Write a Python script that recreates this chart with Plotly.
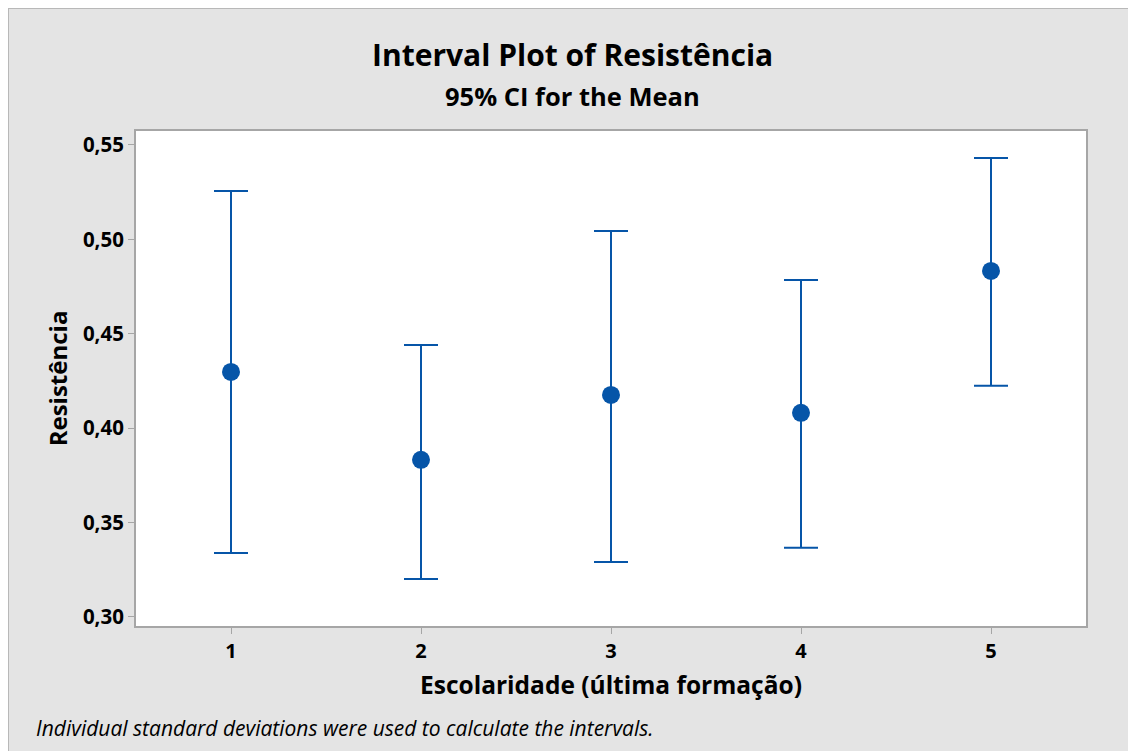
import plotly.graph_objects as go

categories = [1, 2, 3, 4, 5]
means = [0.4298, 0.3832, 0.4176, 0.4081, 0.4833]
upper = [0.5256, 0.4441, 0.5044, 0.4785, 0.5431]
lower = [0.3339, 0.3201, 0.3291, 0.3366, 0.4224]
y_ticks = [0.30, 0.35, 0.40, 0.45, 0.50, 0.55]
y_tick_labels = ["0,30", "0,35", "0,40", "0,45", "0,50", "0,55"]

err_plus = [u - m for u, m in zip(upper, means)]
err_minus = [m - l for m, l in zip(means, lower)]

color = "#0655a8"
font_family = "Open Sans, Noto Sans, sans-serif"

fig = go.Figure()
fig.add_trace(go.Scatter(
    x=categories, y=means, mode="markers",
    marker=dict(size=18, color=color),
    error_y=dict(type="data", symmetric=False, array=err_plus, arrayminus=err_minus,
                 color=color, thickness=2, width=17),
    showlegend=False,
))

# page body has an 8px margin; compensate
OFF = 8
W, H = 1136 - OFF, 751 - OFF
L, R, T, B = 136 - OFF, 1086 - OFF, 131 - OFF, 626 - OFF
pw, ph = R - L, B - T


def px_x(p):
    return (p - OFF - L) / pw


def px_y(p):
    return (B - (p - OFF)) / ph


# panel border at left and top edges
fig.add_shape(type="line", xref="paper", yref="paper",
              x0=px_x(8), x1=px_x(8), y0=px_y(8), y1=px_y(760),
              line=dict(color="#b8b8b8", width=2), layer="below")
fig.add_shape(type="line", xref="paper", yref="paper",
              x0=px_x(8), x1=px_x(1140), y0=px_y(8), y1=px_y(8),
              line=dict(color="#b8b8b8", width=2), layer="below")

fig.update_layout(
    width=W, height=H,
    margin=dict(l=L, r=W - R, t=T, b=H - B),
    paper_bgcolor="#e4e4e4", plot_bgcolor="white",
    font=dict(family=font_family, color="black"),
    xaxis=dict(
        range=[0.5, 5.5], tickvals=categories, ticktext=["<b>%d</b>" % c for c in categories],
        showgrid=False, zeroline=False, showline=True, linecolor="#a6a6a6", linewidth=2,
        mirror=True, ticks="outside", ticklen=6, tickcolor="#a6a6a6",
        tickfont=dict(size=20, family=font_family),
        title=dict(text="<b>Escolaridade (última formação)</b>", font=dict(size=24.5), standoff=14),
    ),
    yaxis=dict(
        range=[0.2952, 0.5574], tickvals=y_ticks, ticktext=["<b>%s</b>" % t for t in y_tick_labels],
        showgrid=False, zeroline=False, showline=True, linecolor="#a6a6a6", linewidth=2,
        mirror=True, ticks="outside", ticklen=6, tickcolor="#a6a6a6",
        tickfont=dict(size=20.5, family=font_family),
        title=dict(text="<b>Resistência</b>", font=dict(size=24), standoff=8),
    ),
)

fig.add_annotation(
    text="<b>Interval Plot of Resistência</b>",
    xref="paper", yref="paper", x=px_x(572), y=px_y(55), xanchor="center", yanchor="middle",
    showarrow=False, font=dict(size=30, family=font_family),
)
fig.add_annotation(
    text="<b>95% CI for the Mean</b>",
    xref="paper", yref="paper", x=px_x(572), y=px_y(96), xanchor="center", yanchor="middle",
    showarrow=False, font=dict(size=25.5, family=font_family),
)
fig.add_annotation(
    text="<i>Individual standard deviations were used to calculate the intervals.</i>",
    xref="paper", yref="paper", x=px_x(34), y=px_y(728), xanchor="left", yanchor="middle",
    showarrow=False, font=dict(size=21, family=font_family),
)

fig.write_html("out.html")
